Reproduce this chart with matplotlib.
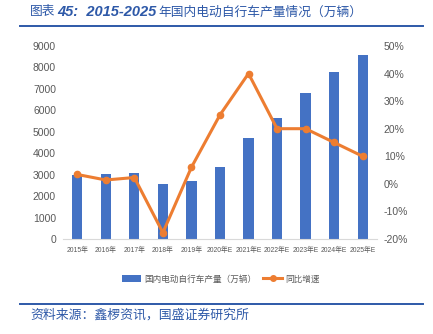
import matplotlib
matplotlib.use("Agg")
import matplotlib.pyplot as plt
from matplotlib.lines import Line2D
from matplotlib.patches import Patch
from matplotlib import font_manager

plt.rcParams['font.family'] = ['Noto Sans CJK SC', 'DejaVu Sans']

years = ["2015年", "2016年", "2017年", "2018年", "2019年", "2020年E", "2021年E",
         "2022年E", "2023年E", "2024年E", "2025年E"]
production = [2990, 3040, 3080, 2550, 2700, 3380, 4730, 5650, 6810, 7800, 8590]
growth = [3.4, 1.4, 2.3, -17.7, 6.0, 25.0, 40.0, 20.0, 20.0, 15.0, 10.0]
left_ticks = list(range(0, 9001, 1000))
right_ticks = list(range(-20, 51, 10))

title_parts = ["图表", "45:  2015-2025", "年国内电动自行车产量情况（万辆）"]
source = "资料来源：鑫椤资讯，国盛证券研究所"
bar_label = "国内电动自行车产量（万辆）"
line_label = "同比增速"

names = {f.name for f in font_manager.fontManager.ttflist}
num_font = 'Liberation Sans Narrow' if 'Liberation Sans Narrow' in names else 'Liberation Sans'
tick_family = [num_font, 'Noto Sans CJK SC']

bar_color = "#4472C4"
line_color = "#ED7D31"
text_gray = "#595959"
blue = "#2E59A8"

fig = plt.figure(figsize=(4.33, 3.34), dpi=100)
ax = fig.add_axes([0.1455, 0.2844, 0.725, 0.578])
x = list(range(len(years)))
ax.bar(x, production, width=0.36, color=bar_color, zorder=2)
ax.set_ylim(0, 9000)
ax.set_xlim(-0.5, 10.5)
ax.set_yticks(left_ticks)
ax.set_yticklabels([str(v) for v in left_ticks], family=tick_family, fontsize=7.5, color=text_gray)
ax.set_xticks(x)
ax.set_xticklabels(years, family=tick_family, fontsize=4.9, color=text_gray)
ax.tick_params(length=0, pad=5)
ax.tick_params(axis='x', pad=6)
for s in ['top', 'left', 'right']:
    ax.spines[s].set_visible(False)
ax.spines['bottom'].set_color("#D9D9D9")

ax2 = ax.twinx()
ax2.plot(x, [g / 100 for g in growth], color=line_color, lw=2.2, marker='o', ms=4.5, zorder=3)
ax2.set_ylim(-0.2, 0.5)
ax2.set_yticks([t / 100 for t in right_ticks])
ax2.set_yticklabels([f"{t}%" for t in right_ticks], family=tick_family, fontsize=7.5, color=text_gray)
ax2.tick_params(length=0, pad=5)
for s in ['top', 'left', 'right', 'bottom']:
    ax2.spines[s].set_visible(False)

handles = [Patch(facecolor=bar_color), Line2D([0], [0], color=line_color, lw=2.2, marker='o', ms=4)]
fig.legend(handles, [bar_label, line_label], loc='center', bbox_to_anchor=(0.51, 1 - 279 / 334),
           ncol=2, frameon=False, fontsize=6.2, handlelength=2.2, columnspacing=0.8,
           handletextpad=0.4, labelcolor=text_gray)

# title in three pieces: CJK normal, latin bold italic, CJK normal
renderer = fig.canvas.get_renderer()
xpos = 30
ty = 1 - 12 / 334
styles = [dict(family=['Noto Sans CJK SC'], style='italic', fontsize=9.2),
          dict(family=['Liberation Sans', 'DejaVu Sans'], style='italic', weight='bold', fontsize=10.5),
          dict(family=['Noto Sans CJK SC'], style='italic', fontsize=9.2)]
for part, st in zip(title_parts, styles):
    t = fig.text(xpos / 433, ty, part, color=blue, va='center', ha='left', **st)
    bb = t.get_window_extent(renderer=renderer)
    xpos += bb.width + 2

fig.text(30 / 433, 1 - 315 / 334, source, fontsize=9.3, color=blue, style='italic',
         va='center', ha='left')
fig.add_artist(Line2D([20 / 433, 423 / 433], [1 - 26 / 334, 1 - 26 / 334], color=blue, lw=1.4))
fig.add_artist(Line2D([20 / 433, 423 / 433], [1 - 304 / 334, 1 - 304 / 334], color=blue, lw=1.4))

fig.savefig("out.png", dpi=100)
